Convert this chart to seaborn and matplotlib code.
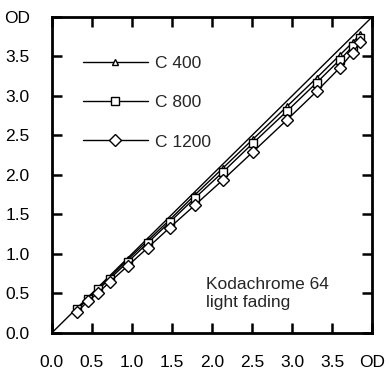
import pandas as pd
import seaborn as sns
import matplotlib
matplotlib.use("Agg")
import matplotlib.pyplot as plt

# initial density (OD) and density after fading
x_od = [0.32, 0.45, 0.58, 0.72, 0.95, 1.20, 1.47, 1.79, 2.14, 2.51, 2.94, 3.31, 3.60, 3.76, 3.85]
c400 = [0.31, 0.44, 0.57, 0.70, 0.93, 1.17, 1.43, 1.75, 2.09, 2.45, 2.87, 3.23, 3.52, 3.68, 3.78]
c800 = [0.30, 0.43, 0.55, 0.68, 0.90, 1.14, 1.40, 1.71, 2.04, 2.40, 2.81, 3.17, 3.46, 3.63, 3.73]
c1200 = [0.27, 0.40, 0.51, 0.64, 0.85, 1.08, 1.33, 1.62, 1.94, 2.29, 2.70, 3.06, 3.36, 3.55, 3.68]

series = [("C 400", c400, "^", 5), ("C 800", c800, "s", 6), ("C 1200", c1200, "D", 6)]
tick_vals = [0.0, 0.5, 1.0, 1.5, 2.0, 2.5, 3.0, 3.5, 4.0]
tick_labels = ["0.0", "0.5", "1.0", "1.5", "2.0", "2.5", "3.0", "3.5", "OD"]

sns.set_style("ticks")
plt.rcParams["font.family"] = ["Liberation Sans", "DejaVu Sans"]
FS = 12.5

fig = plt.figure(figsize=(3.9, 3.69), dpi=100)
ax = fig.add_axes([0.133, 0.098, 0.821, 0.856])

ax.plot([0, 4], [0, 4], color="black", lw=1.0)

for label, vals, mk, ms in series:
    df = pd.DataFrame({"x": x_od, "y": vals})
    sns.lineplot(data=df, x="x", y="y", ax=ax, color="black", lw=1.0,
                 marker=mk, markersize=ms, markerfacecolor="white",
                 markeredgecolor="black", markeredgewidth=1.0, label=label)

ax.set_xlim(0, 4)
ax.set_ylim(0, 4)
ax.set_xticks(tick_vals)
ax.set_yticks(tick_vals)
ax.set_xticklabels(tick_labels, fontsize=FS)
ax.set_yticklabels(tick_labels, fontsize=FS)
ax.set_xlabel("")
ax.set_ylabel("")
ax.tick_params(direction="in", length=7, width=1.8, top=True, right=True,
               colors="black")
ax.tick_params(axis="x", pad=16)
ax.tick_params(axis="y", pad=16)
for sp in ax.spines.values():
    sp.set_linewidth(2.0)
    sp.set_color("black")

ax.legend(loc="upper left", bbox_to_anchor=(0.075, 0.90), frameon=False,
          handlelength=3.75, labelspacing=1.4, fontsize=FS, handletextpad=0.4,
          borderaxespad=0.0)

ax.text(1.93, 0.71, "Kodachrome 64\nlight fading", fontsize=FS, va="top",
        ha="left", linespacing=1.3)

fig.savefig("out.png", dpi=100)
